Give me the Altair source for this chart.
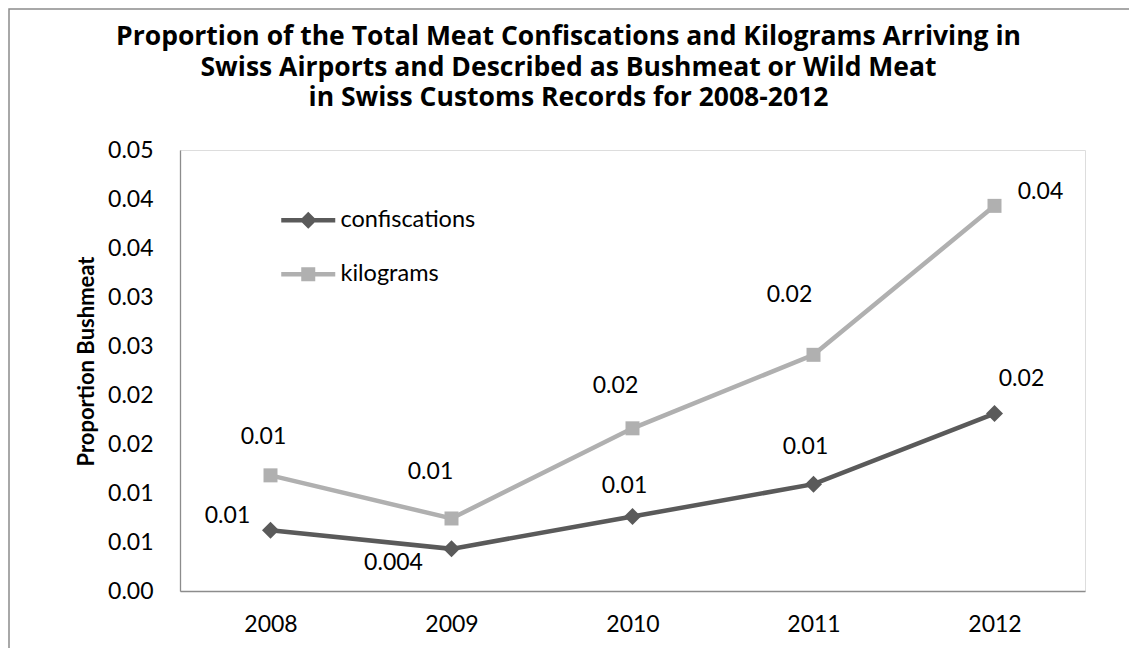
import altair as alt
import pandas as pd

# ---------------- data ----------------
years = ["2008", "2009", "2010", "2011", "2012"]
series_names = ["confiscations", "kilograms"]
confiscations = [0.0062, 0.0043, 0.0076, 0.0109, 0.0181]
kilograms = [0.0118, 0.0074, 0.0166, 0.0241, 0.0393]
confiscation_labels = ["0.01", "0.004", "0.01", "0.01", "0.02"]
kilogram_labels = ["0.01", "0.01", "0.02", "0.02", "0.04"]
y_tick_values = [0.0, 0.005, 0.01, 0.015, 0.02, 0.025, 0.03, 0.035, 0.04, 0.045]
y_tick_labels = ["0.00", "0.01", "0.01", "0.02", "0.02", "0.03", "0.03", "0.04", "0.04", "0.05"]
title_lines = [
    "Proportion of the Total Meat Confiscations and Kilograms Arriving in",
    "Swiss Airports and Described as Bushmeat or Wild Meat",
    "in Swiss Customs Records for 2008-2012",
]
y_title = "Proportion Bushmeat"

# ---------------- style ----------------
FONT = "Lato"
TITLE_FONT = "Open Sans"
COLORS = ["#5a5a5a", "#b0b0b0"]
conf_dx = [-43, -58, -8, -8, 27]
conf_dy = [-14, 14, -31, -37, -35]
kg_dx = [-7, -21, -17, -24, 46]
kg_dy = [-38, -46, -42, -60, -14]

rows = []
for s, vals, labs in [(series_names[0], confiscations, confiscation_labels),
                      (series_names[1], kilograms, kilogram_labels)]:
    for yr, v, lab in zip(years, vals, labs):
        rows.append({"series": s, "year": yr, "value": v, "label": lab})
df = pd.DataFrame(rows)

base = alt.Chart(df)
x_enc = alt.X("year:O", scale=alt.Scale(type="point", padding=0.5),
              axis=alt.Axis(title=None, labelAngle=0, ticks=False, tickSize=0,
                            labelPadding=22, domainColor="#8c8c8c", domainWidth=1.3,
                            labelFont=FONT, labelFontSize=23, labelColor="#000000"))
labels_js = "[" + ",".join("'%s'" % l for l in y_tick_labels) + "]"
y_enc = alt.Y("value:Q", scale=alt.Scale(domain=[0, 0.045], nice=False, zero=True),
              axis=alt.Axis(title=y_title, values=y_tick_values, ticks=False, tickSize=0,
                            labelExpr=labels_js + "[round(datum.value/0.005)]",
                            labelPadding=27, grid=False, domainColor="#8c8c8c", domainWidth=1.3,
                            labelFont=FONT, labelFontSize=23, labelColor="#000000",
                            titleFont=FONT, titleFontSize=22, titleFontWeight="bold",
                            titleColor="#000000", titlePadding=9, titleY=211))
color_scale = alt.Scale(domain=series_names, range=COLORS)

line = base.mark_line(strokeWidth=4.5).encode(
    x=x_enc, y=y_enc, color=alt.Color("series:N", scale=color_scale, legend=None))

pts_conf = base.transform_filter(alt.datum.series == series_names[0]).mark_point(
    shape="diamond", filled=True, size=289, opacity=1).encode(
    x=x_enc, y=y_enc, color=alt.Color("series:N", scale=color_scale, legend=None))
pts_kg = base.transform_filter(alt.datum.series == series_names[1]).mark_point(
    shape="square", filled=True, size=196, opacity=1).encode(
    x=x_enc, y=y_enc, color=alt.Color("series:N", scale=color_scale, legend=None))

text_layers = []
for s, dxs, dys in [(series_names[0], conf_dx, conf_dy), (series_names[1], kg_dx, kg_dy)]:
    for yr, dx, dy in zip(years, dxs, dys):
        text_layers.append(
            base.transform_filter((alt.datum.series == s) & (alt.datum.year == yr))
            .mark_text(dx=dx, dy=dy, font=FONT, fontSize=23, color="#000000",
                       align="center", baseline="middle")
            .encode(x=x_enc, y=y_enc, text="label:N"))

path_conf = "M-5.4,-0.45L5.4,-0.45L5.4,0.45L-5.4,0.45Z M0,-1.7L1.7,0L0,1.7L-1.7,0Z"
path_kg = "M-5.4,-0.45L5.4,-0.45L5.4,0.45L-5.4,0.45Z M-1.4,-1.4L1.4,-1.4L1.4,1.4L-1.4,1.4Z"
leg = alt.Legend(title=None, orient="none", legendX=116.5, legendY=58.5, padding=0,
                 labelFont=FONT, labelFontSize=23.5, labelColor="#000000",
                 labelOffset=20.5, rowPadding=29, symbolSize=100, symbolOpacity=1,
                 symbolStrokeWidth=0)
legend_layer = base.transform_filter("datum.value < 0").mark_point(filled=True).encode(
    x=x_enc, y=y_enc,
    color=alt.Color("series:N", scale=color_scale, legend=leg),
    shape=alt.Shape("series:N", scale=alt.Scale(domain=series_names, range=[path_conf, path_kg]),
                    legend=leg))

frame = alt.Chart(alt.Data(values=[{"a": 1}])).mark_rect(
    fill=None, stroke="#8c8c8c", strokeWidth=1.5).encode(
    x=alt.value(-171), x2=alt.value(1200), y=alt.value(-141), y2=alt.value(800))

chart = alt.layer(frame, line, pts_conf, pts_kg, *text_layers, legend_layer).resolve_scale(
    color="independent", shape="independent"
).properties(
    width=905, height=441,
    title=alt.TitleParams(text=title_lines, anchor="middle", frame="group", dx=-64,
                          font=TITLE_FONT, fontSize=26.5, fontWeight="bold", color="#000000",
                          lineHeight=30.5, offset=-103.5),
    autosize=alt.AutoSizeParams(type="none"),
    padding={"left": 172, "top": 142, "right": 44, "bottom": 57},
).configure_view(stroke=None).configure(background="white")

chart.save("out.html", embed_options={"renderer": "svg", "actions": False})
